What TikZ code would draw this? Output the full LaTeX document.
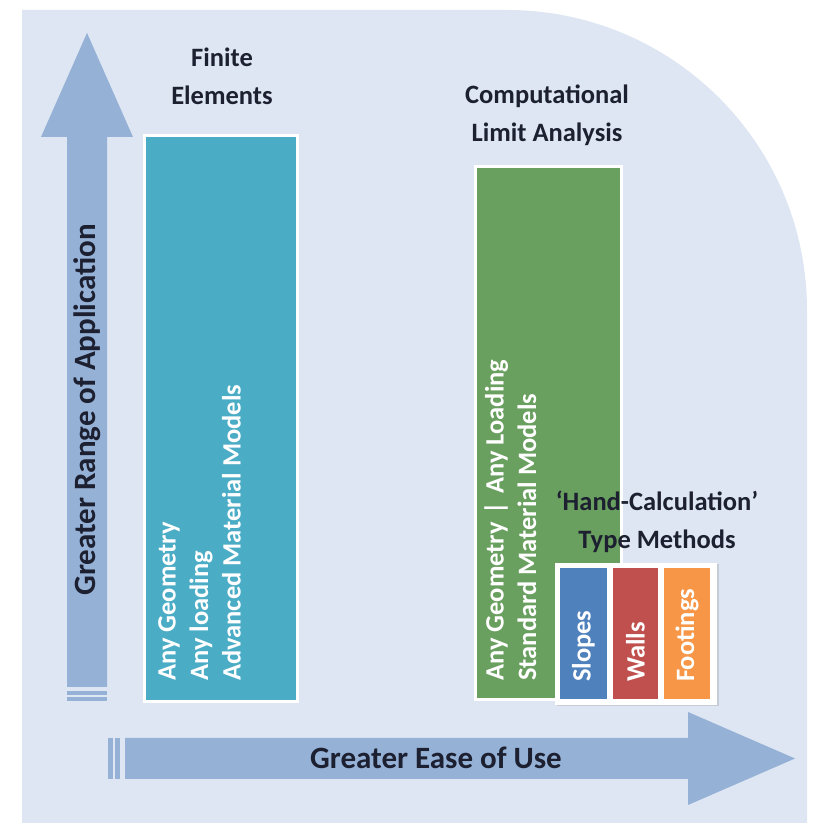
\documentclass[tikz,border=0pt]{standalone}
\usepackage{fontspec}
\setmainfont{Carlito}
\usetikzlibrary{positioning, shadows}

\definecolor{panelbg}{RGB}{221,230,242}
\definecolor{arrowblue}{RGB}{149,177,214}
\definecolor{feteal}{HTML}{4BACC6}
\definecolor{clagreen}{HTML}{6AA05F}
\definecolor{slopeblue}{HTML}{4F81BD}
\definecolor{wallred}{HTML}{C0504D}
\definecolor{footorange}{HTML}{F79646}
\definecolor{titleink}{RGB}{28,32,48}

\tikzset{
  bar/.style={draw=white, line width=3pt, inner sep=0pt,
    drop shadow={opacity=0.25, shadow xshift=1.5pt, shadow yshift=-1.5pt}},
  methodbox/.style={inner sep=0pt, minimum height=131pt},
  heading/.style={text=titleink, align=center, font=\fontsize{26.5}{38}\selectfont\bfseries},
  bartext/.style={text=white, rotate=90, align=left, inner sep=0pt,
    font=\fontsize{26.5}{32.5}\selectfont\bfseries},
  axislabel/.style={text=titleink, font=\fontsize{31}{36}\selectfont\bfseries},
}

\begin{document}
\begin{tikzpicture}[x=1pt, y=1pt]
  \useasboundingbox (0,0) rectangle (814,823);

  % backdrop with one big rounded corner
  \fill[panelbg] (22,0) -- (22,813) -- (507,813)
    arc[start angle=90, end angle=0, radius=300] -- (807,0) -- cycle;

  % striped block arrows
  \fill[arrowblue] (67,136) -- (67,686) -- (41,686) -- (87,790) -- (133,686) -- (107,686) -- (107,136) -- cycle;
  \fill[arrowblue] (67,128) rectangle (107,132);
  \fill[arrowblue] (67,122) rectangle (107,126);
  \fill[arrowblue] (125,44) -- (688,44) -- (688,18) -- (795,64.5) -- (688,111) -- (688,85) -- (125,85) -- cycle;
  \fill[arrowblue] (108,44) rectangle (113,85);
  \fill[arrowblue] (115,44) rectangle (120,85);

  \node[axislabel, rotate=90] (rangelbl) at (87,413) {Greater Range of Application};
  \node[axislabel] (easelbl) at (436,65) {Greater Ease of Use};

  % method bars
  \node[bar, fill=feteal, minimum width=153pt, minimum height=566pt] (fe) at (221,404.5) {};
  \node[heading] (fetitle) at (222,747) {Finite\\Elements};
  \node[bartext, anchor=north west] (feinfo) at (158,142) {Any Geometry\\Any loading\\Advanced Material Models};

  \node[bar, fill=clagreen, minimum width=146pt, minimum height=533pt] (cla) at (548.5,390) {};
  \node[heading] (clatitle) at (547,708) {Computational\\Limit Analysis};
  \node[bartext, anchor=north west] (clainfo) at (484,142) {Any Geometry\hspace{0.3em}|\hspace{0.3em}Any Loading\\Standard Material Models};

  % hand calculation group
  \node[heading] (hctitle) at (657,301) {‘Hand-Calculation’\\Type Methods};
  \node[fill=white, inner sep=0pt, minimum width=162pt, minimum height=142pt,
    drop shadow={opacity=0.25, shadow xshift=1.5pt, shadow yshift=-1.5pt}] (hc) at (636,189) {};
  \node[methodbox, fill=slopeblue, minimum width=47pt] (slopes) at (583.5,189.5) {};
  \node[methodbox, fill=wallred, minimum width=45pt] (walls) at (635.5,189.5) {};
  \node[methodbox, fill=footorange, minimum width=46pt] (footings) at (687,189.5) {};
  \node[bartext, anchor=west] (slopestxt) at ([yshift=17pt]slopes.south) {Slopes};
  \node[bartext, anchor=west] (wallstxt) at ([yshift=17pt]walls.south) {Walls};
  \node[bartext, anchor=west] (footingstxt) at ([yshift=17pt]footings.south) {Footings};
\end{tikzpicture}
\end{document}
